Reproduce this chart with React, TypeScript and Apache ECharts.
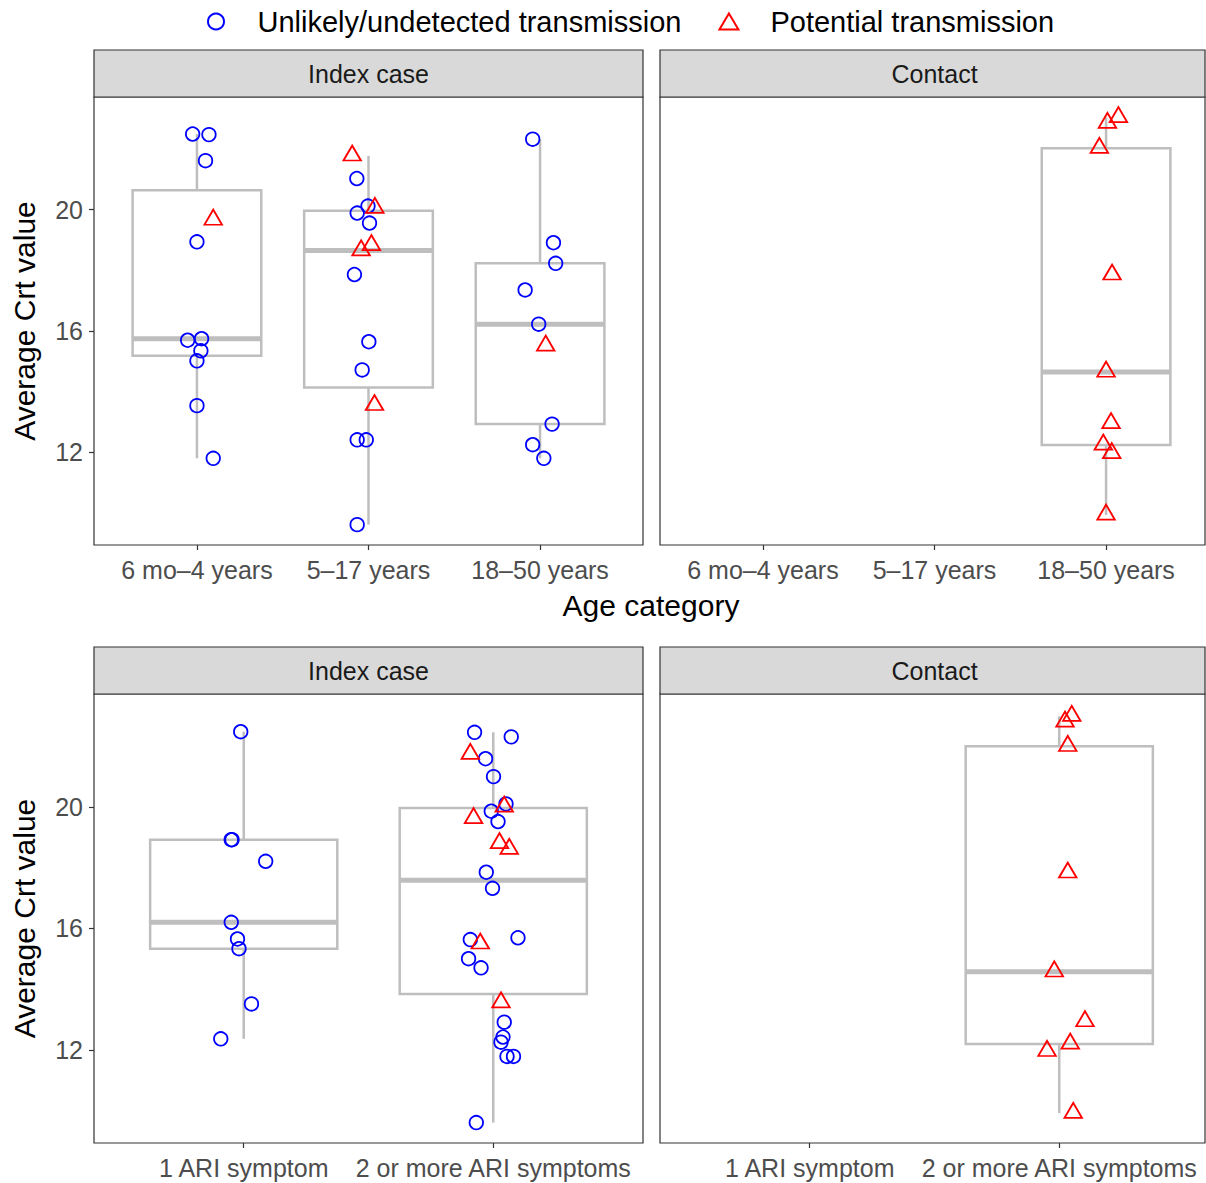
import React, { useEffect, useRef } from "react";
import * as echarts from "echarts";

// ---------- data ----------
const ageCategories = ["6 mo–4 years", "5–17 years", "18–50 years"];
const ariCategories = ["1 ARI symptom", "2 or more ARI symptoms"];
const facetLabels = ["Index case", "Contact"];
const yTicks = [12, 16, 20];
const seriesNames = ["Unlikely/undetected transmission", "Potential transmission"];
const xTitle = "Age category";
const yTitle = "Average Crt value";

// each point: [category index, average Crt value, horizontal jitter (category units)]
const indexAgeUnlikely: number[][] = [
  [0, 22.5, -0.025], [0, 22.48, 0.07], [0, 21.62, 0.05], [0, 18.94, 0.0], [0, 15.69, -0.054],
  [0, 15.74, 0.027], [0, 15.34, 0.023], [0, 15.01, 0.0], [0, 13.53, 0.0], [0, 11.79, 0.095],
  [1, 21.03, -0.068], [1, 20.12, -0.003], [1, 19.89, -0.066], [1, 19.56, 0.006], [1, 17.86, -0.082],
  [1, 15.64, 0.002], [1, 14.71, -0.037], [1, 12.4, -0.066], [1, 12.4, -0.013], [1, 9.6, -0.066],
  [2, 22.33, -0.043], [2, 18.91, 0.078], [2, 18.23, 0.091], [2, 17.35, -0.087], [2, 16.22, -0.008],
  [2, 12.92, 0.07], [2, 12.24, -0.043], [2, 11.79, 0.022],
];
const indexAgePotential: number[][] = [
  [0, 19.66, 0.095],
  [1, 21.78, -0.095], [1, 20.05, 0.037], [1, 18.65, -0.043], [1, 18.82, 0.017], [1, 13.54, 0.035],
  [2, 15.5, 0.033],
];
const contactAgePotential: number[][] = [
  [2, 23.05, 0.072], [2, 22.86, 0.008], [2, 22.03, -0.039], [2, 17.85, 0.035], [2, 14.64, 0.0],
  [2, 12.94, 0.029], [2, 12.23, -0.016], [2, 11.95, 0.033], [2, 9.92, 0.0],
];
const indexAriUnlikely: number[][] = [
  [0, 22.48, -0.012], [0, 18.92, -0.05], [0, 18.92, -0.047], [0, 18.21, 0.088], [0, 16.2, -0.05],
  [0, 15.65, -0.025], [0, 15.33, -0.019], [0, 13.51, 0.031], [0, 12.36, -0.092],
  [1, 22.46, -0.075], [1, 22.31, 0.072], [1, 21.59, -0.031], [1, 21.0, 0.001], [1, 20.1, 0.051],
  [1, 19.86, -0.008], [1, 19.52, 0.019], [1, 17.85, -0.028], [1, 17.32, -0.003], [1, 15.63, -0.092],
  [1, 15.69, 0.099], [1, 15.0, -0.099], [1, 14.7, -0.049], [1, 12.91, 0.044], [1, 12.42, 0.039],
  [1, 12.25, 0.031], [1, 11.78, 0.055], [1, 11.78, 0.081], [1, 9.6, -0.068],
];
const indexAriPotential: number[][] = [
  [1, 21.74, -0.092], [1, 20.0, 0.044], [1, 19.62, -0.079], [1, 18.8, 0.025], [1, 18.61, 0.064],
  [1, 15.49, -0.052], [1, 13.55, 0.031],
];
const contactAriPotential: number[][] = [
  [1, 22.99, 0.05], [1, 22.8, 0.023], [1, 22.0, 0.034], [1, 17.83, 0.034], [1, 14.57, -0.02],
  [1, 12.93, 0.103], [1, 12.19, 0.044], [1, 11.95, -0.049], [1, 9.91, 0.056],
];

// ---------- helpers ----------
function quantile(sorted: number[], p: number) {
  const h = (sorted.length - 1) * p;
  const lo = Math.floor(h);
  const hi = Math.ceil(h);
  return sorted[lo] + (h - lo) * (sorted[hi] - sorted[lo]);
}
function boxStats(points: number[][], nCats: number) {
  const out: number[][] = [];
  for (let c = 0; c < nCats; c++) {
    const vals = points.filter((p) => p[0] === c).map((p) => p[1]).sort((a, b) => a - b);
    if (!vals.length) continue;
    const q1 = quantile(vals, 0.25);
    const med = quantile(vals, 0.5);
    const q3 = quantile(vals, 0.75);
    const iqr = q3 - q1;
    const lo = Math.min(...vals.filter((v) => v >= q1 - 1.5 * iqr));
    const hi = Math.max(...vals.filter((v) => v <= q3 + 1.5 * iqr));
    out.push([c, lo, q1, med, q3, hi]);
  }
  return out;
}

const FONT = "Liberation Sans, Arial, Helvetica, sans-serif";
const BLUE = "#0000FF";
const RED = "#FF0000";
const BOX = "#BEBEBE";
const DARK = "#333333";

export default function App() {
  const ref = useRef<HTMLDivElement>(null);
  useEffect(() => {
    if (!ref.current) return;
    const chart = echarts.init(ref.current, undefined, { renderer: "svg" });

    const allValues = [
      ...indexAgeUnlikely, ...indexAgePotential, ...contactAgePotential,
      ...indexAriUnlikely, ...indexAriPotential, ...contactAriPotential,
    ].map((p) => p[1]);
    const vMin = Math.min(...allValues);
    const vMax = Math.max(...allValues);
    const pad = (vMax - vMin) * 0.05;
    const yMin = vMin - pad;
    const yMax = vMax + pad;

    const FULLW = 549;
    const panels = [
      { left: 94, top: 97, width: 549, height: 448, cats: ageCategories, facet: 0, blue: indexAgeUnlikely, red: indexAgePotential, showY: true },
      { left: 660, top: 97, width: 545, height: 448, cats: ageCategories, facet: 1, blue: [] as number[][], red: contactAgePotential, showY: false },
      { left: 94, top: 694, width: 549, height: 449, cats: ariCategories, facet: 0, blue: indexAriUnlikely, red: indexAriPotential, showY: true },
      { left: 660, top: 694, width: 545, height: 449, cats: ariCategories, facet: 1, blue: [] as number[][], red: contactAriPotential, showY: false },
    ];

    const grid: any[] = [];
    const xAxis: any[] = [];
    const yAxis: any[] = [];
    const series: any[] = [];
    const graphic: any[] = [];

    panels.forEach((p, i) => {
      const n = p.cats.length;
      const xMin = -0.6;
      const xMax = -0.6 + ((n - 1 + 1.2) * p.width) / FULLW;
      grid.push({
        left: p.left, top: p.top, width: p.width, height: p.height,
        show: true, borderColor: DARK, borderWidth: 1.2, backgroundColor: "#fff",
      });
      const catIdx = p.cats.map((_, k) => k);
      xAxis.push({
        type: "value", gridIndex: i, min: xMin, max: xMax, position: "bottom",
        axisLine: { show: false, onZero: false },
        splitLine: { show: false },
        axisTick: { show: true, length: 5, customValues: catIdx, lineStyle: { color: DARK, width: 1.2 } },
        axisLabel: {
          show: true, customValues: catIdx, margin: 12,
          formatter: (v: number) => p.cats[Math.round(v)] ?? "",
          fontSize: 25, color: "#4D4D4D", fontFamily: FONT,
        },
      });
      yAxis.push({
        type: "value", gridIndex: i, min: yMin, max: yMax, position: "left",
        axisLine: { show: false, onZero: false },
        splitLine: { show: false },
        axisTick: { show: p.showY, length: 5, customValues: yTicks, lineStyle: { color: DARK, width: 1.2 } },
        axisLabel: {
          show: p.showY, customValues: yTicks, margin: 11,
          formatter: (v: number) => String(Math.round(v)),
          fontSize: 25, color: "#4D4D4D", fontFamily: FONT,
        },
        name: p.showY ? yTitle : "",
        nameLocation: "middle",
        nameRotate: 90,
        nameGap: 55,
        nameTextStyle: { fontSize: 30, color: "#000", fontFamily: FONT },
      });

      const all = [...p.blue, ...p.red];
      series.push({
        type: "custom", name: "box", xAxisIndex: i, yAxisIndex: i, z: 1, silent: true,
        data: boxStats(all, n),
        encode: { x: 0, y: [1, 2, 3, 4, 5] },
        renderItem: (params: any, api: any) => {
          const x = api.value(0);
          const lo = api.coord([x, api.value(1)]);
          const q1 = api.coord([x, api.value(2)]);
          const med = api.coord([x, api.value(3)]);
          const q3 = api.coord([x, api.value(4)]);
          const hi = api.coord([x, api.value(5)]);
          const hw = api.size([0.75, 0])[0] / 2;
          const st = { stroke: BOX, lineWidth: 2.5, fill: "none" };
          return {
            type: "group",
            children: [
              { type: "line", shape: { x1: lo[0], y1: lo[1], x2: q1[0], y2: q1[1] }, style: st },
              { type: "line", shape: { x1: q3[0], y1: q3[1], x2: hi[0], y2: hi[1] }, style: st },
              { type: "rect", shape: { x: q3[0] - hw, y: q3[1], width: 2 * hw, height: q1[1] - q3[1] }, style: { stroke: BOX, lineWidth: 2.5, fill: "#fff" } },
              { type: "line", shape: { x1: med[0] - hw, y1: med[1], x2: med[0] + hw, y2: med[1] }, style: { stroke: BOX, lineWidth: 5 } },
            ],
          };
        },
      });
      if (p.blue.length) {
        series.push({
          type: "scatter", name: seriesNames[0], xAxisIndex: i, yAxisIndex: i, z: 3,
          symbol: "circle", symbolSize: 13.5,
          itemStyle: { color: "rgba(0,0,0,0)", borderColor: BLUE, borderWidth: 1.8, opacity: 1 },
          data: p.blue.map((d) => [d[0] + d[2], d[1]]),
        });
      }
      series.push({
        type: "scatter", name: seriesNames[1], xAxisIndex: i, yAxisIndex: i, z: 3,
        symbol: "triangle", symbolSize: [17.5, 15], symbolOffset: [0, -2.8],
        itemStyle: { color: "rgba(0,0,0,0)", borderColor: RED, borderWidth: 1.8, opacity: 1 },
        data: p.red.map((d) => [d[0] + d[2], d[1]]),
      });

      // facet strip
      const sy = p.top - 47;
      graphic.push({
        type: "rect", shape: { x: p.left, y: sy, width: p.width, height: 47 },
        style: { fill: "#D9D9D9", stroke: DARK, lineWidth: 1.2 }, z: 10,
      });
      graphic.push({
        type: "text", x: p.left + FULLW / 2, y: sy + 24,
        style: {
          text: facetLabels[p.facet], fontSize: 25, fontFamily: FONT, fill: "#1A1A1A",
          textAlign: "center", textVerticalAlign: "middle", align: "center", verticalAlign: "middle",
        },
        z: 11,
      });
    });

    graphic.push({
      type: "text", x: 651, y: 605,
      style: {
        text: xTitle, fontSize: 30, fontFamily: FONT, fill: "#000",
        textAlign: "center", textVerticalAlign: "middle", align: "center", verticalAlign: "middle",
      },
    });

    chart.setOption({
      animation: false,
      backgroundColor: "#fff",
      textStyle: { fontFamily: FONT },
      legend: {
        top: 2, left: 202, itemWidth: 19, itemHeight: 16, itemGap: 37,
        selectedMode: false,
        textStyle: { fontSize: 29, color: "#000", fontFamily: FONT, padding: [0, 0, 0, 27] },
        data: [
          { name: seriesNames[0], icon: "circle", itemStyle: { color: "rgba(0,0,0,0)", borderColor: BLUE, borderWidth: 2 } },
          { name: seriesNames[1], icon: "triangle", itemStyle: { color: "rgba(0,0,0,0)", borderColor: RED, borderWidth: 2 } },
        ],
      },
      grid, xAxis, yAxis, series, graphic,
    });
    return () => chart.dispose();
  }, []);
  return (
    <div
      ref={ref}
      style={{ position: "absolute", left: 0, top: 0, width: 1206, height: 1183, background: "#fff" }}
    />
  );
}
